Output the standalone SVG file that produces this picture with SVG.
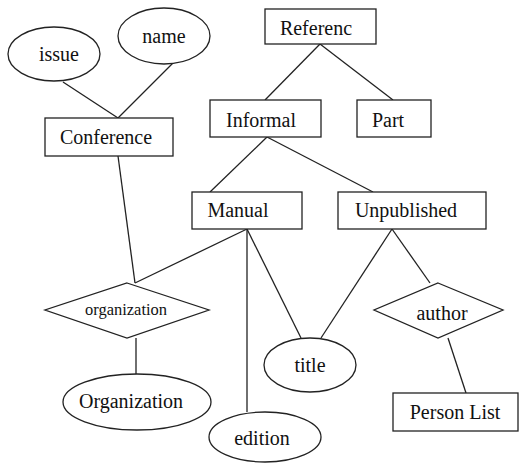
<svg xmlns="http://www.w3.org/2000/svg" width="520" height="467" viewBox="0 0 520 467">
<style>
.s{fill:#fff;stroke:#222;stroke-width:1.3}
.c line{stroke:#222;stroke-width:1.3}
text{font-family:"Liberation Serif","Times New Roman",serif;font-size:20px;fill:#111;text-anchor:middle}
</style>
<rect width="520" height="467" fill="#fff"/>
<g class="c" id="connectors">
<line x1="63" y1="82" x2="118" y2="118"/>
<line x1="173" y1="63" x2="118" y2="118"/>
<line x1="118" y1="156" x2="135" y2="283"/>
<line x1="320" y1="44" x2="265" y2="100"/>
<line x1="320" y1="44" x2="393" y2="100"/>
<line x1="267" y1="137" x2="210" y2="192"/>
<line x1="267" y1="137" x2="373" y2="192"/>
<line x1="247" y1="229" x2="135" y2="283"/>
<line x1="247" y1="229" x2="247" y2="412"/>
<line x1="247" y1="229" x2="301" y2="338"/>
<line x1="392" y1="229" x2="321" y2="338"/>
<line x1="392" y1="229" x2="430" y2="283"/>
<line x1="136" y1="338" x2="136" y2="375"/>
<line x1="448" y1="338" x2="466" y2="393"/>
</g>
<g id="issue"><ellipse class="s" cx="54" cy="54" rx="46" ry="27"/><text x="59" y="61">issue</text></g>
<g id="name"><ellipse class="s" cx="164" cy="36" rx="46" ry="28"/><text x="164" y="43">name</text></g>
<g id="conference"><rect class="s" x="45" y="118" width="128" height="38"/><text x="106" y="144">Conference</text></g>
<g id="referenc"><rect class="s" x="265" y="9" width="111" height="35"/><text x="316" y="35">Referenc</text></g>
<g id="informal"><rect class="s" x="210" y="100" width="111" height="37"/><text x="261" y="127">Informal</text></g>
<g id="part"><rect class="s" x="357" y="100" width="74" height="37"/><text x="388" y="127">Part</text></g>
<g id="manual"><rect class="s" x="192" y="192" width="110" height="37"/><text x="238" y="217">Manual</text></g>
<g id="unpublished"><rect class="s" x="338" y="192" width="148" height="37"/><text x="406" y="217">Unpublished</text></g>
<g id="organization-rel"><polygon class="s" points="127,283 209,310 127,338 45,310"/><text x="126" y="315" style="font-size:16px" textLength="82" lengthAdjust="spacingAndGlyphs">organization</text></g>
<g id="organization-attr"><ellipse class="s" cx="137" cy="402" rx="74" ry="28"/><text x="131" y="408">Organization</text></g>
<g id="title"><ellipse class="s" cx="310" cy="365" rx="46" ry="27"/><text x="310" y="372">title</text></g>
<g id="author"><polygon class="s" points="438,283 503,310 438,338 374,310"/><text x="442" y="320">author</text></g>
<g id="edition"><ellipse class="s" cx="265" cy="437" rx="56" ry="25"/><text x="262" y="445">edition</text></g>
<g id="person-list"><rect class="s" x="393" y="393" width="125" height="38"/><text x="455" y="419">Person List</text></g>
</svg>
